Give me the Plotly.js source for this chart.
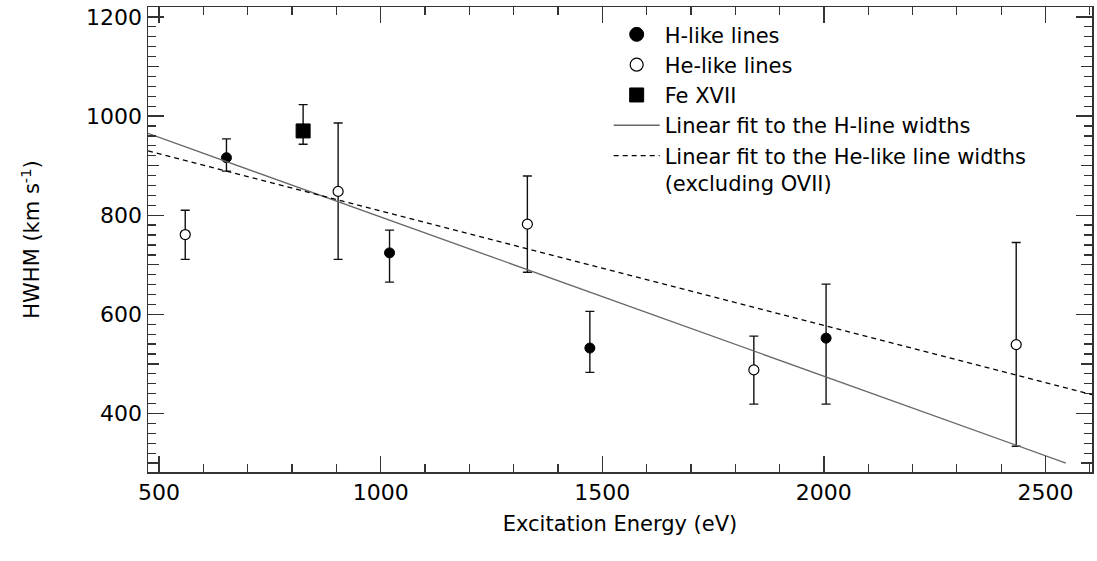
<!DOCTYPE html>
<html>
<head>
<meta charset="utf-8">
<script src="https://cdn.plot.ly/plotly-3.0.1.min.js"></script>
<style>html,body{margin:0;padding:0;background:#fff;}#chart{width:1097px;height:561px;}</style>
</head>
<body>
<div id="chart"></div>
<script>
// H-like lines
const hX = [652, 1020, 1472, 2005];
const hY = [916, 724, 532, 552];
const hErrPlus = [38, 46, 74, 109];
const hErrMinus = [27, 59, 49, 133];
// He-like lines
const heX = [559, 904, 1331, 1842, 2434];
const heY = [761, 848, 782, 488, 539];
const heErrPlus = [49, 138, 97, 68, 206];
const heErrMinus = [50, 137, 97, 69, 205];
// Fe XVII
const feX = [825];
const feY = [970];
const feErrPlus = [53];
const feErrMinus = [27];
// Linear fits (end points)
const fitHX = [475, 2546];
const fitHY = [965, 300];
const fitHeX = [475, 2605];
const fitHeY = [930, 438];

const xRange = [475, 2605];
const yRange = [282, 1220];

const FONT = 'DejaVu Sans, Liberation Sans, sans-serif';

const errStyle = {type: 'data', symmetric: false, color: '#111', thickness: 1.4, width: 4.5};

const hMarker = {symbol: 'circle', color: '#000', line: {color: '#000', width: 1}};
const heMarker = {symbol: 'circle', color: '#fff', line: {color: '#000', width: 1.2}};
const feMarker = {symbol: 'square', color: '#000', line: {color: '#000', width: 1}};

const traces = [
  {x: hX, y: hY, mode: 'markers', name: 'H-like lines', type: 'scatter', showlegend: false,
   marker: Object.assign({size: 10}, hMarker),
   error_y: Object.assign({array: hErrPlus, arrayminus: hErrMinus}, errStyle)},
  {x: heX, y: heY, mode: 'markers', name: 'He-like lines', type: 'scatter', showlegend: false,
   marker: Object.assign({size: 10}, heMarker),
   error_y: Object.assign({array: heErrPlus, arrayminus: heErrMinus}, errStyle)},
  {x: feX, y: feY, mode: 'markers', name: 'Fe XVII', type: 'scatter', showlegend: false,
   marker: Object.assign({size: 14}, feMarker),
   error_y: Object.assign({array: feErrPlus, arrayminus: feErrMinus}, errStyle)},
  // legend entries (no drawn data)
  {x: [null], y: [null], mode: 'markers', name: 'H-like lines', type: 'scatter', yaxis: 'y2',
   marker: Object.assign({size: 14}, hMarker)},
  {x: [null], y: [null], mode: 'markers', name: 'He-like lines', type: 'scatter', yaxis: 'y2',
   marker: Object.assign({size: 13}, heMarker)},
  {x: [null], y: [null], mode: 'markers', name: 'Fe XVII', type: 'scatter', yaxis: 'y2',
   marker: Object.assign({size: 14}, feMarker)},
  {x: fitHX, y: fitHY, mode: 'lines', name: 'Linear fit to the H-line widths', type: 'scatter',
   line: {color: '#666', width: 1.3}},
  {x: fitHeX, y: fitHeY, mode: 'lines', name: 'Linear fit to the He-like line widths<br>(excluding OVII)', type: 'scatter',
   line: {color: '#000', width: 1.3, dash: '5px,4px'}}
];

const axisCommon = {
  ticks: 'inside', tickwidth: 1.3, tickcolor: '#333', showline: true, linecolor: '#333', linewidth: 1.5,
  mirror: 'ticks', showgrid: false, zeroline: false
};

const layout = {
  width: 1097, height: 561,
  margin: {l: 148, r: 5, t: 7, b: 89},
  paper_bgcolor: '#fff', plot_bgcolor: '#fff',
  font: {family: FONT, size: 22, color: '#000'},
  showlegend: true,
  legend: {x: 0.488, y: 0.9845, xanchor: 'left', yanchor: 'top', bgcolor: 'rgba(0,0,0,0)',
           font: {family: FONT, size: 21, color: '#000'}, tracegroupgap: 0, valign: 'top',
           itemwidth: 46},
  xaxis: Object.assign({}, axisCommon, {
          range: xRange, tickmode: 'linear', tick0: 500, dtick: 500, ticklen: 16,
          minor: {tickmode: 'linear', tick0: 500, dtick: 100, ticks: 'inside', ticklen: 8, tickwidth: 1.3, tickcolor: '#333', showgrid: false},
          tickfont: {family: FONT, size: 22, color: '#000'},
          title: {text: 'Excitation Energy (eV)', font: {family: FONT, size: 21, color: '#000'}, standoff: 12}}),
  yaxis: Object.assign({}, axisCommon, {
          range: yRange, tickmode: 'linear', tick0: 400, dtick: 200, ticklen: 16,
          minor: {tickmode: 'linear', tick0: 400, dtick: 20, ticks: 'inside', ticklen: 8, tickwidth: 1.3, tickcolor: '#333', showgrid: false},
          tickfont: {family: FONT, size: 22, color: '#000'},
          title: {text: 'HWHM (km s<sup>-1</sup>)', font: {family: FONT, size: 21, color: '#000'}, standoff: 40}}),
  yaxis2: Object.assign({}, axisCommon, {
          overlaying: 'y', anchor: 'x', side: 'left', range: yRange, tickmode: 'linear', tick0: 400, dtick: 100,
          ticklen: 11, showticklabels: false, showline: false})
};

Plotly.newPlot('chart', traces, layout, {displayModeBar: false, staticPlot: true});
</script>
</body>
</html>
